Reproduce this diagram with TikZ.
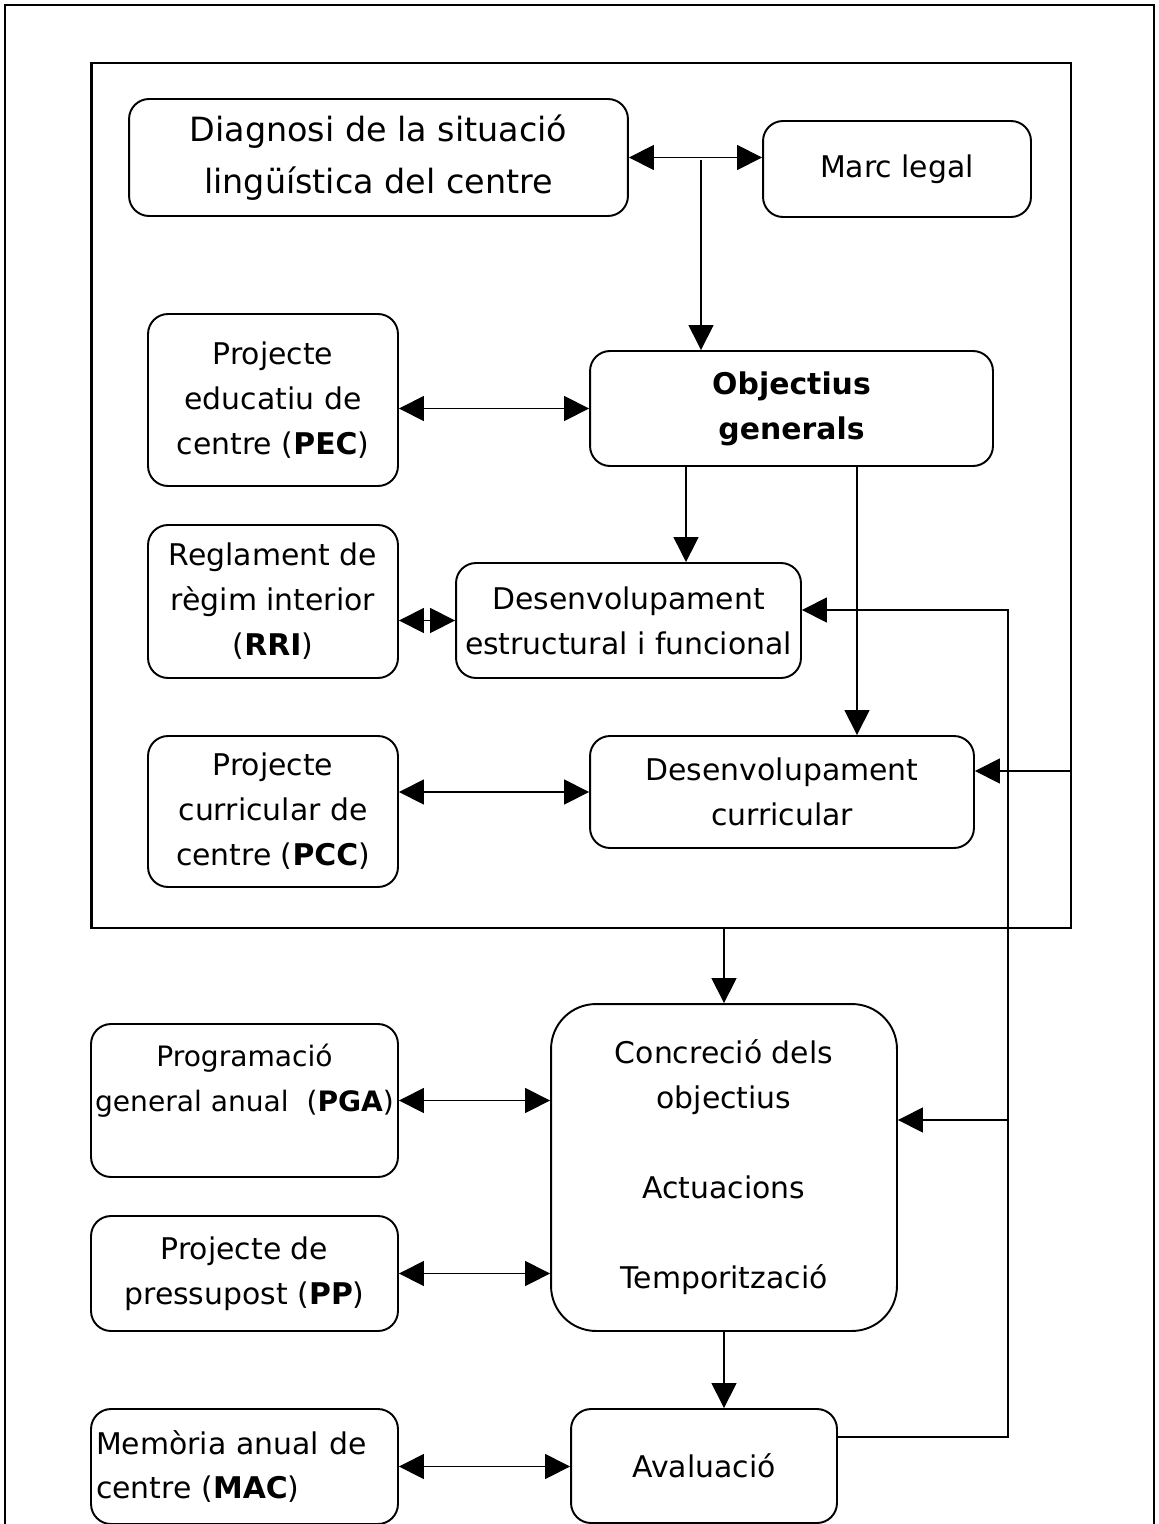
\documentclass[tikz,border=0pt]{standalone}
\usepackage{fontspec}
\setmainfont{DejaVu Sans}
\usetikzlibrary{arrows.meta,positioning,calc}

\begin{document}
\begin{tikzpicture}[x=0.02cm,y=-0.02cm,
    caixa/.style={draw,rounded corners=0.4cm,line width=1.1pt,inner sep=0pt,align=center,
      font=\fontsize{17}{25.6}\selectfont},
    fl/.style={line width=0.85pt,-{Triangle[length=0.5cm,width=0.5cm]}},
    dfl/.style={line width=0.85pt,{Triangle[length=0.5cm,width=0.5cm]}-{Triangle[length=0.5cm,width=0.5cm]}}]

      \useasboundingbox (0,0) rectangle (1159,1524);

      % marc de la pagina i requadre interior
      \draw[line width=1.1pt] (5,1524) -- (5,5) -- (1154,5) -- (1154,1524);
      \path (581,495.5) node[draw,line width=1.6pt,minimum width=19.6cm,minimum height=17.3cm] (requadre) {};

      \path (378.5,157.5) node[caixa,minimum width=9.98cm,minimum height=2.34cm,
        font=\fontsize{19}{29.6}\selectfont] (diag) {Diagnosi de la situació\\lingüística del centre};
      \path (897,169)     node[caixa,minimum width=5.36cm,minimum height=1.92cm] (marc) {Marc legal};
      \path (273,400)     node[caixa,minimum width=5cm,minimum height=3.44cm] (pec) {Projecte\\educatiu de\\centre (\textbf{PEC})};
      \path (791.5,408.5) node[caixa,minimum width=8.06cm,minimum height=2.3cm] (obj) {\textbf{Objectius}\\\textbf{generals}};
      \path (273,601.5)   node[caixa,minimum width=5cm,minimum height=3.06cm] (rri) {Reglament de\\règim interior\\(\textbf{RRI})};
      \path (628.5,620.5) node[caixa,minimum width=6.9cm,minimum height=2.3cm] (dest) {Desenvolupament\\estructural i funcional};
      \path (273,811.5)   node[caixa,minimum width=5cm,minimum height=3.02cm] (pcc) {Projecte\\curricular de\\centre (\textbf{PCC})};
      \path (782,792)     node[caixa,minimum width=7.68cm,minimum height=2.24cm] (dcur) {Desenvolupament\\curricular};
      \path (244.5,1100.5) node[caixa,minimum width=6.14cm,minimum height=3.06cm,
        font=\fontsize{16}{25.6}\selectfont] (pga) {Programació\\general anual~ (\textbf{PGA})\\\mbox{}};
      \path (724,1167.5)  node[caixa,rounded corners=0.9cm,minimum width=6.92cm,minimum height=6.54cm] (conc)
        {Concreció dels\\objectius\\\mbox{}\\Actuacions\\\mbox{}\\Temporització};
      \path (244.5,1273.5) node[caixa,minimum width=6.14cm,minimum height=2.3cm] (pp) {Projecte de\\pressupost (\textbf{PP})};
      \path (244.5,1466.5) node[caixa,align=left,inner xsep=0.1cm,text width=5.94cm,minimum height=2.3cm] (mac)
        {Memòria anual de\\centre (\textbf{MAC})};
      \path (704,1466)    node[caixa,minimum width=5.32cm,minimum height=2.28cm] (aval) {Avaluació};

      \coordinate (bif) at (701,160);
      \coordinate (retdalt) at (1008,610);
      \coordinate (retmig) at (1008,1120);
      \coordinate (entrada) at (1071,771);

      \draw[dfl] (diag.east) -- (diag.east -| marc.west);
      \draw[fl]  (bif) -- (bif |- obj.north);
      \draw[dfl] (obj.west -| pec.east) -- (obj.west);
      \draw[fl]  ([xshift=-2.11cm]obj.south) -- ([xshift=-2.11cm]obj.south |- dest.north);
      \draw[fl]  ([xshift=1.31cm]obj.south) -- ([xshift=1.31cm]obj.south |- dcur.north);
      \draw[dfl] (dest.west -| rri.east) -- (dest.west);
      \draw[dfl] (dcur.west -| pcc.east) -- (dcur.west);
      \draw[fl]  (entrada) -- (entrada -| dcur.east);
      \draw[fl]  (requadre.south -| conc.north) -- (conc.north);
      \draw[dfl] (pga.east) -- (pga.east -| conc.west);
      \draw[dfl] (pp.east) -- (pp.east -| conc.west);
      \draw[fl]  (conc.south) -- (conc.south |- aval.north);
      \draw[dfl] (mac.east) -- (mac.east -| aval.west);
      \draw[fl]  ([yshift=0.58cm]aval.east) -| (retdalt) -- (retdalt -| dest.east);
      \draw[fl]  (retmig) -- (retmig -| conc.east);

    \end{tikzpicture}
\end{document}
